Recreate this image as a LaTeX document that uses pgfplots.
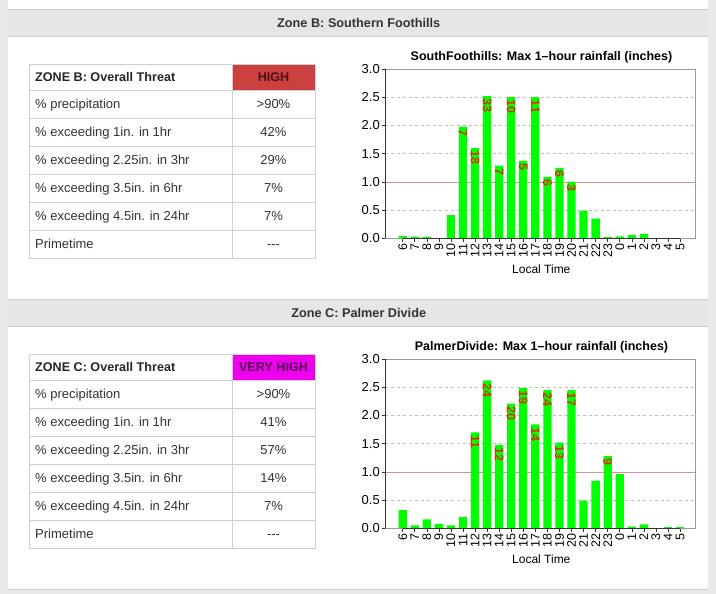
\documentclass[border=0pt]{standalone}
\usepackage{fontspec}
\setmainfont{Liberation Sans}
\usepackage{pgfplots}
\pgfplotsset{compat=1.18}

\definecolor{band}{HTML}{E6E6E6}
\definecolor{side}{HTML}{E9E9E9}
\definecolor{bandline}{HTML}{CCCCCC}
\definecolor{cellline}{HTML}{CFCFCF}
\definecolor{txt}{HTML}{333333}
\definecolor{highred}{HTML}{CC4040}
\definecolor{hightxt}{HTML}{4A1212}
\definecolor{veryhigh}{HTML}{EE00EE}
\definecolor{veryhightxt}{HTML}{520052}
\definecolor{barlab}{RGB}{215,50,5}
\definecolor{refred}{HTML}{E58C8C}
\definecolor{gridgray}{HTML}{BDBDBD}
\definecolor{boxgray}{HTML}{9A9A9A}

\newcommand\fs[1]{\fontsize{#1}{#1}\selectfont}

% header band + threat table of one zone; #1 = shift down (pt)
\newcommand\zone[9]{%
\begin{scope}[x=1pt,y=-1pt,yshift=-#1pt]
  \fill[band] (8,9.3) rectangle (708,36);
  \draw[bandline] (8,9.3) -- (708,9.3) (8,36) -- (708,36);
  \node[font=\fs{12.7}\bfseries, text=txt, anchor=base, inner sep=0pt] at (358.7,27.8) {#2};
  \fill[#5] (232,64.3) rectangle (315,90);
  \draw[cellline] (29,64.3) rectangle (315,258.3);
  \foreach \yy in {90,118.3,146.3,174.3,202.3,230.3} \draw[cellline] (29,\yy) -- (315,\yy);
  \draw[cellline] (232,64.3) -- (232,258.3);
  \node[anchor=base west, inner sep=0pt, font=\fs{12.6}\bfseries, text=black!85] at (35,81.8) {#3};
  \node[anchor=base, inner sep=0pt, font=\fs{12.6}\bfseries, text=#6] at (273.5,81.8) {#4};
  \foreach \yy/\lab/\val in {108.8/{\% precipitation}/{>90\%},
      136.9/{\% exceeding 1in. in 1hr}/{#7},
      164.9/{\% exceeding 2.25in. in 3hr}/{#8},
      192.9/{\% exceeding 3.5in. in 6hr}/{#9},
      220.9/{\% exceeding 4.5in. in 24hr}/{7\%},
      248.9/{Primetime}/{-{}-{}-}}{
    \node[anchor=base west, inner sep=0pt, font=\fs{13}, text=txt] at (35,\yy) {\lab};
    \node[anchor=base, inner sep=0pt, font=\fs{13}, text=txt] at (273.5,\yy) {\val};
  }
\end{scope}}

\pgfplotsset{rainchart/.style={
  scale only axis, width=310pt, height=169.3pt, anchor=south west,
  xmin=-1.468, xmax=24.24, ymin=0, ymax=3,
  axis line style={boxgray, line width=0.6pt},
  tick pos=left, tick align=outside, major tick length=3.5pt,
  tick style={black!80, line width=0.6pt},
  xtick={0,...,23},
  xticklabels={6,7,8,9,10,11,12,13,14,15,16,17,18,19,20,21,22,23,0,1,2,3,4,5},
  ytick={0,0.5,...,3},
  /pgf/number format/assume math mode=true,
  yticklabel style={/pgf/number format/fixed, /pgf/number format/fixed zerofill,
    /pgf/number format/precision=1, font=\fs{13}, inner sep=1.5pt},
  xticklabel style={rotate=90, anchor=east, font=\fs{12.5}, inner sep=2pt},
  ymajorgrids, major grid style={gridgray, dash pattern=on 3pt off 3pt, line width=0.6pt},
  title style={font=\fs{12.5}\bfseries, at={(0.5,1)}, anchor=base, yshift=3pt, xshift=1.5pt, inner sep=0pt},
  xlabel={Local Time},
  xlabel style={font=\fs{12}, at={(axis description cs:0.5,0)}, anchor=center, yshift=-31pt, xshift=1.3pt},
  clip=false,
}}
\pgfplotsset{barlabels/.style={draw=none, no markers, nodes near coords={\pgfplotspointmeta},
  point meta=explicit symbolic,
  every node near coord/.append style={rotate=-90, anchor=west, inner xsep=2.5pt, inner ysep=0pt,
    font=\fs{12.5}\bfseries, text=barlab}}}

\begin{document}
\begin{tikzpicture}
\begin{scope}[x=1pt,y=-1pt]
  \useasboundingbox (0,0) rectangle (716,594);
  \fill[white] (0,0) rectangle (716,594);
  \fill[side] (0,0) rectangle (8,594);
  \fill[side] (708,0) rectangle (716,594);
  \fill[side] (8,589.3) rectangle (708,594);
  \draw[bandline] (8,589.3) -- (708,589.3);
\end{scope}

\zone{0}{Zone B: Southern Foothills}{ZONE B: Overall Threat}{HIGH}{highred}{hightxt}{42\%}{29\%}{7\%}
\zone{290}{Zone C: Palmer Divide}{ZONE C: Overall Threat}{VERY HIGH}{veryhigh}{veryhightxt}{41\%}{57\%}{14\%}

% Zone B chart
\begin{axis}[rainchart, at={(385pt,-238.3pt)},
  title={SouthFoothills: Max 1--hour rainfall (inches)}]
\addplot[refred, line width=0.6pt] coordinates {(-1.468,1) (24.24,1)};
\addplot[ybar, bar width=8.3pt, bar shift=0pt, fill=green, draw=none] coordinates {
 (0,0.04) (1,0.03) (2,0.02) (3,0) (4,0.41) (5,1.98) (6,1.60) (7,2.52) (8,1.29) (9,2.50)
 (10,1.37) (11,2.50) (12,1.09) (13,1.25) (14,1.00) (15,0.49) (16,0.35) (17,0.02)
 (18,0.035) (19,0.06) (20,0.08) (21,0) (22,0) (23,0)};
\addplot[barlabels] coordinates {
 (5,1.98) [7] (6,1.60) [18] (7,2.52) [33] (8,1.29) [7] (9,2.50) [10]
 (10,1.37) [5] (11,2.50) [11] (12,1.09) [6] (13,1.25) [6] (14,1.00) [3]};
\draw[black!80, line width=0.6pt] (rel axis cs:0,0) -- (rel axis cs:0,1);
\draw[black!80, line width=0.6pt] (axis cs:0,0) -- (axis cs:23,0);
\end{axis}

% Zone C chart
\begin{axis}[rainchart, at={(385pt,-528.3pt)},
  title={PalmerDivide: Max 1--hour rainfall (inches)}]
\addplot[refred, line width=0.6pt] coordinates {(-1.468,1) (24.24,1)};
\addplot[ybar, bar width=8.3pt, bar shift=0pt, fill=green, draw=none] coordinates {
 (0,0.32) (1,0.05) (2,0.16) (3,0.08) (4,0.05) (5,0.20) (6,1.70) (7,2.62) (8,1.48) (9,2.21)
 (10,2.49) (11,1.84) (12,2.45) (13,1.52) (14,2.45) (15,0.49) (16,0.84) (17,1.28)
 (18,0.96) (19,0.03) (20,0.07) (21,0) (22,0.02) (23,0.02)};
\addplot[barlabels] coordinates {
 (6,1.70) [11] (7,2.62) [24] (8,1.48) [12] (9,2.21) [20] (10,2.49) [19]
 (11,1.84) [14] (12,2.45) [24] (13,1.52) [13] (14,2.45) [17] (17,1.28) [9]};
\draw[black!80, line width=0.6pt] (rel axis cs:0,0) -- (rel axis cs:0,1);
\draw[black!80, line width=0.6pt] (axis cs:0,0) -- (axis cs:23,0);
\end{axis}
\end{tikzpicture}
\end{document}
